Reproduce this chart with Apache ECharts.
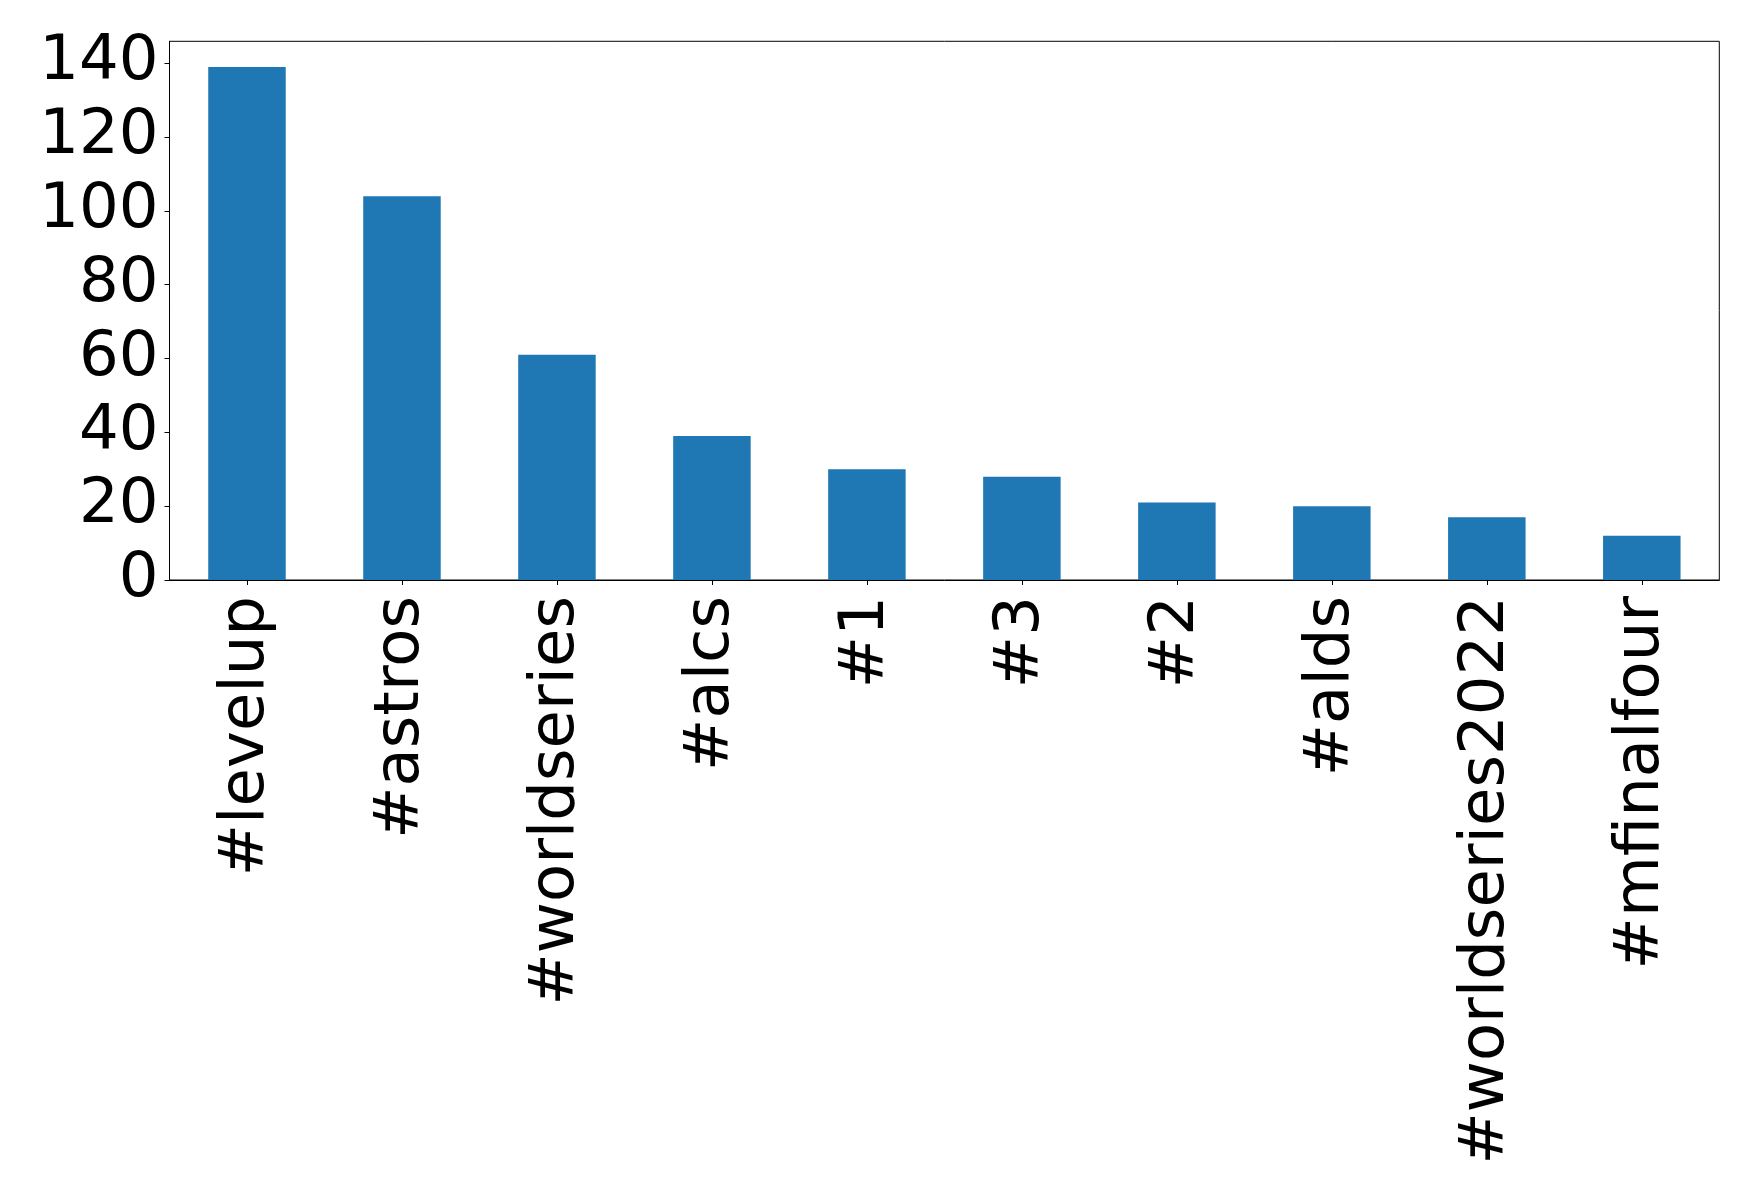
<!DOCTYPE html>
<html>
<head>
<meta charset="utf-8">
<script src="https://cdn.jsdelivr.net/npm/echarts@6/dist/echarts.min.js"></script>
<style>
html,body{margin:0;padding:0;background:#fff;}
#chart{width:1758px;height:1198px;}
</style>
</head>
<body>
<div id="chart"></div>
<script>
const categories = ['#levelup', '#astros', '#worldseries', '#alcs', '#1', '#3', '#2', '#alds', '#worldseries2022', '#mfinalfour'];
const counts = [139, 104, 61, 39, 30, 28, 21, 20, 17, 12];
const yTicks = [0, 20, 40, 60, 80, 100, 120, 140];

const yMax = Math.max(...counts) * 1.05;
const font = 'DejaVu Sans';

const chart = echarts.init(document.getElementById('chart'), null, {renderer: 'canvas'});
chart.setOption({
  animation: false,
  backgroundColor: '#ffffff',
  grid: {
    left: 169.5, top: 41.3, right: 38.7, bottom: 618,
    show: true, borderColor: '#000', borderWidth: 1, backgroundColor: 'transparent',
    containLabel: false
  },
  xAxis: {
    type: 'category',
    data: categories,
    boundaryGap: true,
    axisLine: {show: true, lineStyle: {color: '#000', width: 1}},
    axisTick: {show: true, alignWithLabel: true, length: 5, inside: false, lineStyle: {color: '#000', width: 1}},
    axisLabel: {
      rotate: 90, interval: 0, margin: 16,
      color: '#000', fontFamily: font, fontSize: 62.5
    },
    splitLine: {show: false}
  },
  yAxis: {
    type: 'value',
    min: 0, max: yMax, interval: 20,
    axisLine: {show: true, lineStyle: {color: '#000', width: 1}},
    axisTick: {show: true, length: 5, inside: false, lineStyle: {color: '#000', width: 1}, customValues: yTicks},
    axisLabel: {
      color: '#000', fontFamily: font, fontSize: 62.5, margin: 11,
      customValues: yTicks
    },
    splitLine: {show: false}
  },
  series: [{
    type: 'bar',
    data: counts,
    barWidth: '50%',
    itemStyle: {color: '#1f77b4'}
  }]
});
</script>
</body>
</html>
